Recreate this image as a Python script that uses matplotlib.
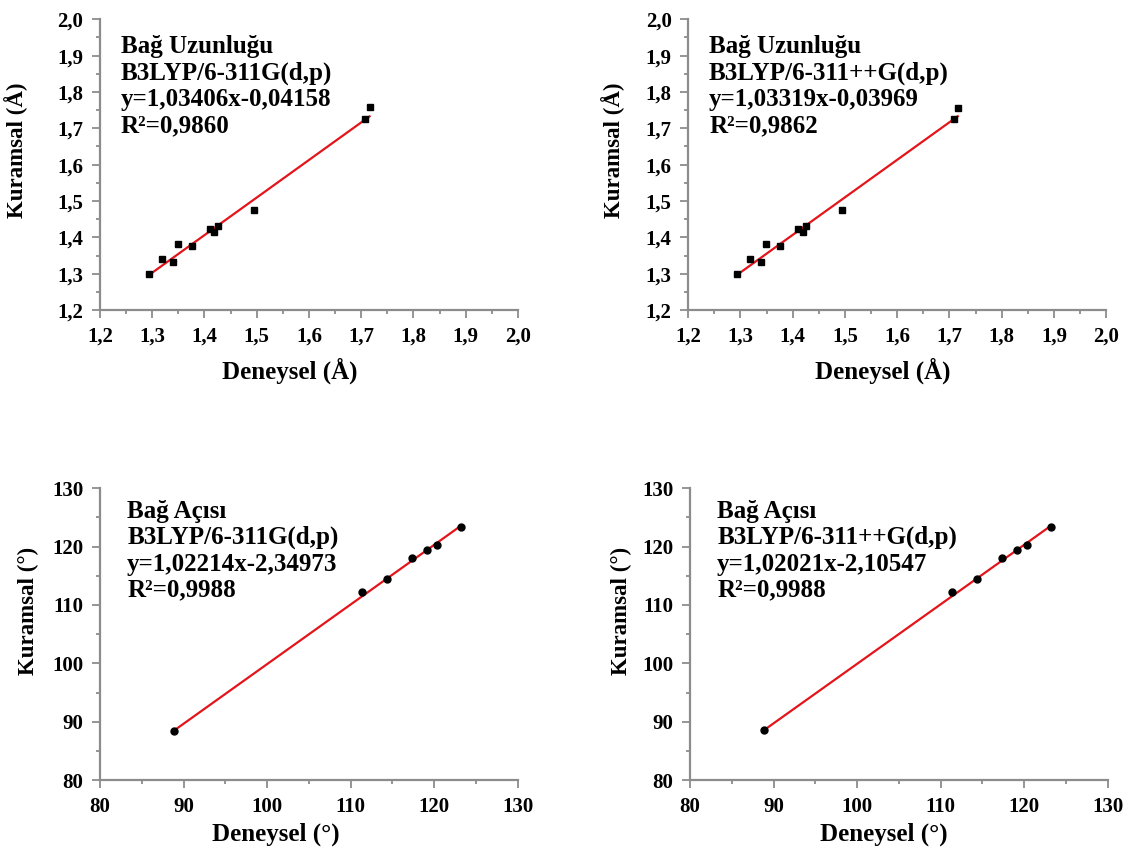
# ---------------------------------------------------------------------------------------------- #
# Deneysel vs. kuramsal bag uzunluklari ve bag acilari.
# ---------------------------------------------------------------------------------------------- #
import matplotlib
matplotlib.use('Agg')
import matplotlib.pyplot as plt
from matplotlib.ticker import FixedLocator, FixedFormatter, MultipleLocator

# ---------------------------------------------------------------------------------------------- #
# We define each data set.
# ---------------------------------------------------------------------------------------------- #
Bond_Exp = [1.294,1.318,1.340,1.349,1.376,1.410,1.419,1.426,1.495,1.708,1.716]
Bond_Theo_1 = [1.299,1.340,1.332,1.381,1.377,1.424,1.414,1.431,1.475,1.725,1.758]
Bond_Theo_2 = [1.300,1.340,1.332,1.381,1.377,1.424,1.414,1.431,1.475,1.725,1.757]
Bond_Fit_1 = [1.03406,-0.04158]
Bond_Fit_2 = [1.03319,-0.03969]

Angle_Exp = [88.86,111.4,114.4,117.4,119.1,120.3,123.2]
Angle_Theo_1 = [88.45,112.2,114.4,118.1,119.4,120.3,123.4]
Angle_Theo_2 = [88.55,112.2,114.4,118.1,119.4,120.3,123.4]
Angle_Fit_1 = [1.02214,-2.34973]
Angle_Fit_2 = [1.02021,-2.10547]

Bond_Ticks = [1.2,1.3,1.4,1.5,1.6,1.7,1.8,1.9,2.0]
Bond_Tick_Labels = ['1,2','1,3','1,4','1,5','1,6','1,7','1,8','1,9','2,0']
Angle_Ticks = [80,90,100,110,120,130]
Angle_Tick_Labels = ['80','90','100','110','120','130']

Bond_Texts = [
    'Bağ Uzunluğu\nB3LYP/6-311G(d,p)\ny=1,03406x-0,04158\nR²=0,9860',
    'Bağ Uzunluğu\nB3LYP/6-311++G(d,p)\ny=1,03319x-0,03969\nR²=0,9862'
]
Angle_Texts = [
    'Bağ Açısı\nB3LYP/6-311G(d,p)\ny=1,02214x-2,34973\nR²=0,9988',
    'Bağ Açısı\nB3LYP/6-311++G(d,p)\ny=1,02021x-2,10547\nR²=0,9988'
]

# ---------------------------------------------------------------------------------------------- #
# We define plot properties.
# ---------------------------------------------------------------------------------------------- #
FontType = 'Liberation Serif'
TickSize = 15
XLabelSize = 18
YLabelSize = 16.5
TextSize = 18
LineColor = '#e3151a'
SpineColor = '#8c8c8c'

fig = plt.figure(figsize = (11.26,8.51),dpi = 100)
Boxes = [
    [0.0888,0.6357,0.3712,0.3416],
    [0.6112,0.6357,0.3712,0.3416],
    [0.0888,0.0834,0.3710,0.3428],
    [0.6128,0.0834,0.3710,0.3428]
]
# xlabel x, xlabel y, ylabel x, ylabel y (axes fraction)
LabelPos = [
    [0.453,-0.165,-0.172,0.55],
    [0.466,-0.165,-0.151,0.55],
    [0.42,-0.147,-0.146,0.58],
    [0.464,-0.147,-0.139,0.58]
]


def make_panel(box,xData,yData,fit,ticks,tickLabels,minor,text,tpos,marker,msize,label,lpos):
    ax = fig.add_axes(box)
    ax.plot(xData,yData,ls = 'none',marker = marker,ms = msize,c = 'black',zorder = 3)
    xLine = [min(xData),max(xData)]
    yLine = [fit[0] * x + fit[1] for x in xLine]
    ax.plot(xLine,yLine,c = LineColor,lw = 1.6,zorder = 2)

    # We configure.
    ax.set_xlim([ticks[0],ticks[-1]])
    ax.set_ylim([ticks[0],ticks[-1]])
    for axis in [ax.xaxis,ax.yaxis]:
        axis.set_major_locator(FixedLocator(ticks))
        axis.set_major_formatter(FixedFormatter(tickLabels))
        axis.set_minor_locator(MultipleLocator(minor))
    ax.spines['top'].set_visible(False)
    ax.spines['right'].set_visible(False)
    for side in ['left','bottom']:
        ax.spines[side].set_color(SpineColor)
        ax.spines[side].set_linewidth(1.6)
    ax.tick_params(which = 'major',direction = 'out',length = 6,width = 1.3,color = SpineColor,pad = 6)
    ax.tick_params(which = 'minor',direction = 'out',length = 3,width = 1.3,color = SpineColor)
    for lab in ax.get_xticklabels() + ax.get_yticklabels():
        lab.set_fontsize(TickSize)
        lab.set_fontname(FontType)
        lab.set_fontweight('bold')
    ax.set_xlabel('Deneysel (' + label + ')',fontsize = XLabelSize,fontname = FontType,fontweight = 'bold')
    ax.set_ylabel('Kuramsal (' + label + ')',fontsize = YLabelSize,fontname = FontType,fontweight = 'bold')
    ax.xaxis.set_label_coords(lpos[0],lpos[1])
    ax.yaxis.set_label_coords(lpos[2],lpos[3])
    ax.text(tpos[0],tpos[1],text,transform = ax.transAxes,ha = 'left',va = 'top',fontsize = TextSize,
            fontname = FontType,fontweight = 'bold',linespacing = 1.17)
    return ax


# ---------------------------------------------------------------------------------------------- #
# We plot.
# ---------------------------------------------------------------------------------------------- #
make_panel(Boxes[0],Bond_Exp,Bond_Theo_1,Bond_Fit_1,Bond_Ticks,Bond_Tick_Labels,0.05,
           Bond_Texts[0],[0.05,0.945],'s',5,'Å',LabelPos[0])
make_panel(Boxes[1],Bond_Exp,Bond_Theo_2,Bond_Fit_2,Bond_Ticks,Bond_Tick_Labels,0.05,
           Bond_Texts[1],[0.05,0.945],'s',5,'Å',LabelPos[1])
make_panel(Boxes[2],Angle_Exp,Angle_Theo_1,Angle_Fit_1,Angle_Ticks,Angle_Tick_Labels,5,
           Angle_Texts[0],[0.065,0.96],'o',5,'°',LabelPos[2])
make_panel(Boxes[3],Angle_Exp,Angle_Theo_2,Angle_Fit_2,Angle_Ticks,Angle_Tick_Labels,5,
           Angle_Texts[1],[0.065,0.96],'o',5,'°',LabelPos[3])

fig.savefig('out.png',dpi = 100)
